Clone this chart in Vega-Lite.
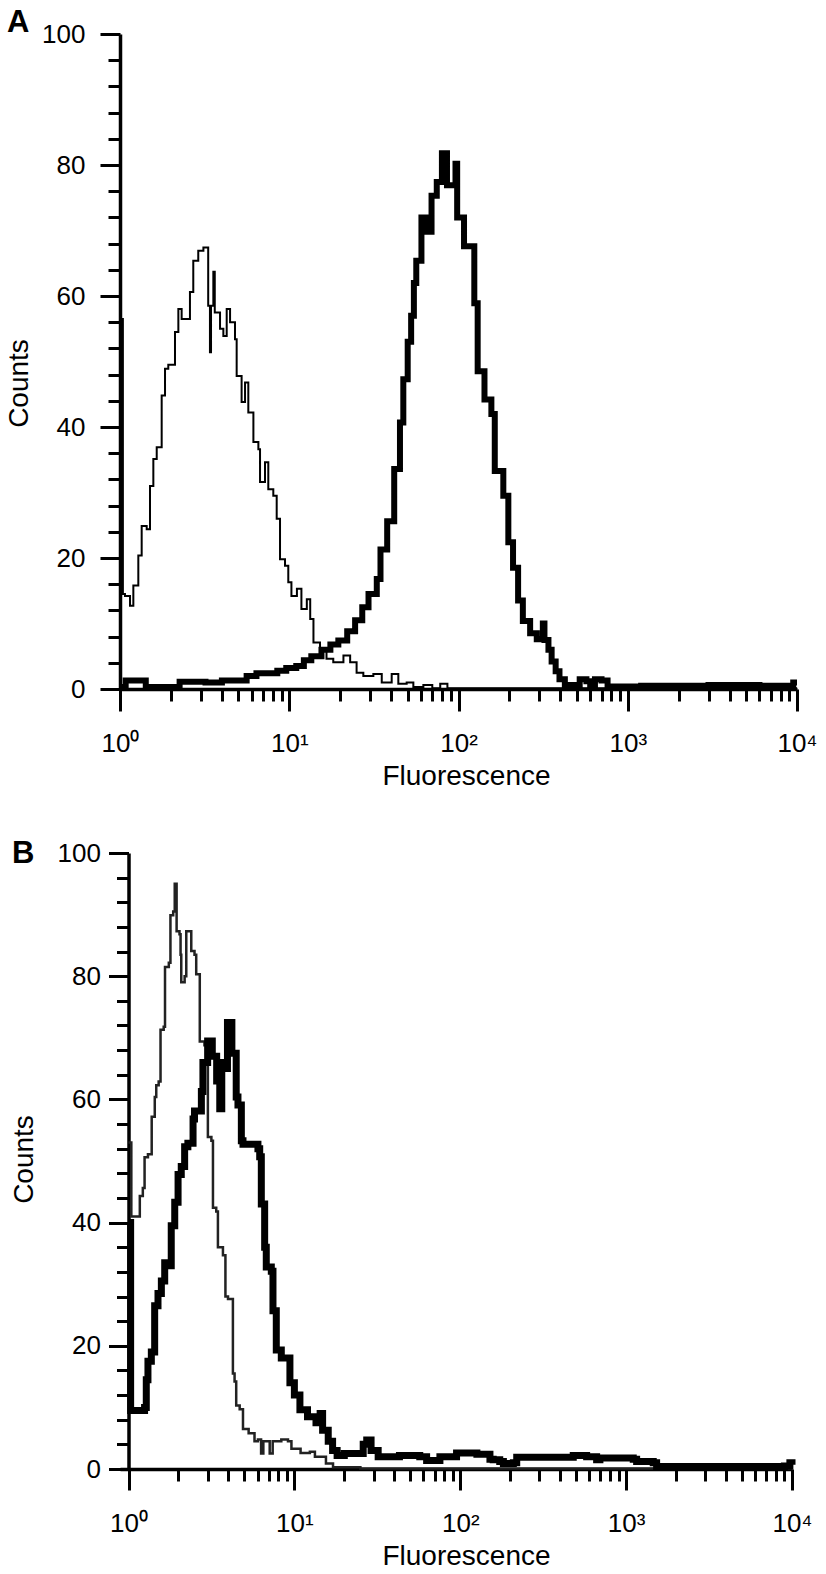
{
  "$schema": "https://vega.github.io/schema/vega-lite/v6.json",
  "padding": {"left": 5, "top": 7, "right": 0, "bottom": 0},
  "background": "white",
  "config": {
    "font": "Liberation Sans",
    "view": {"stroke": null},
    "axis": {
      "grid": false,
      "domainColor": "#000",
      "domainWidth": 3.5,
      "tickColor": "#000",
      "tickWidth": 3,
      "labelColor": "#000",
      "titleColor": "#000",
      "labelFont": "Liberation Sans",
      "titleFont": "Liberation Sans",
      "labelFontSize": 26,
      "titleFontSize": 28,
      "titleFontWeight": "normal",
      "labelFlush": false,
      "labelOverlap": false,
      "labelBound": false
    }
  },
  "datasets": {
    "ac": [
      {"f":1.0,"c":56.5},{"f":1.04,"c":14.5},{"f":1.07,"c":14.2},{"f":1.146,"c":12.7},{"f":1.199,"c":15.8},{"f":1.283,"c":20.4},{"f":1.343,"c":24.9},{"f":1.438,"c":24.4},{"f":1.504,"c":31.0},{"f":1.574,"c":35.1},{"f":1.648,"c":36.9},{"f":1.763,"c":44.8},{"f":1.845,"c":48.9},{"f":1.929,"c":49.5},{"f":2.113,"c":54.5},{"f":2.212,"c":58.0},{"f":2.313,"c":56.5},{"f":2.59,"c":60.6},{"f":2.71,"c":65.4},{"f":2.90,"c":66.9},{"f":3.11,"c":67.4},{"f":3.32,"c":58.5},{"f":3.40,"c":51.4},{"f":3.45,"c":58.5},{"f":3.56,"c":63.7},{"f":3.63,"c":57.5},{"f":3.90,"c":55.0},{"f":4.08,"c":53.9},{"f":4.27,"c":58.0},{"f":4.47,"c":56.0},{"f":4.78,"c":53.4},{"f":4.89,"c":47.8},{"f":5.23,"c":43.8},{"f":5.48,"c":46.8},{"f":5.73,"c":42.2},{"f":6.14,"c":37.7},{"f":6.57,"c":36.6},{"f":6.72,"c":31.6},{"f":7.19,"c":34.6},{"f":7.52,"c":30.5},{"f":8.05,"c":29.5},{"f":8.43,"c":26.0},{"f":8.82,"c":19.8},{"f":9.44,"c":18.8},{"f":9.87,"c":16.3},{"f":10.3,"c":14.2},{"f":11.1,"c":15.3},{"f":11.8,"c":12.2},{"f":12.7,"c":13.7},{"f":13.3,"c":10.7},{"f":13.9,"c":7.1},{"f":15.2,"c":6.1},{"f":16.6,"c":4.6},{"f":18.2,"c":4.1},{"f":20.9,"c":5.1},{"f":22.9,"c":4.1},{"f":25.0,"c":2.5},{"f":27.4,"c":2.0},{"f":31.4,"c":2.3},{"f":35.2,"c":1.0},{"f":40.3,"c":2.3},{"f":44.1,"c":0.8},{"f":49.4,"c":1.0},{"f":54.1,"c":0.3},{"f":62,"c":0.6},{"f":70,"c":0.1},{"f":78,"c":0.8},{"f":86,"c":0.1},{"f":10000,"c":0.1}
    ],
    "at": [
      {"f":1.0,"c":0.3},{"f":1.08,"c":1.3},{"f":1.3,"c":1.3},{"f":1.42,"c":0.3},{"f":2.1,"c":0.3},{"f":2.25,"c":1.1},{"f":3.2,"c":1.0},{"f":4.0,"c":1.3},{"f":5.3,"c":1.3},{"f":5.6,"c":2.0},{"f":6.4,"c":2.4},{"f":7.6,"c":2.4},{"f":8.5,"c":2.8},{"f":9.6,"c":3.2},{"f":11.0,"c":3.5},{"f":12.2,"c":4.4},{"f":13.5,"c":5.0},{"f":15.5,"c":6.0},{"f":17.5,"c":6.8},{"f":19.5,"c":7.4},{"f":22,"c":8.8},{"f":24.5,"c":10.5},{"f":27,"c":12.5},{"f":29.4,"c":14.5},{"f":32.9,"c":16.8},{"f":34.6,"c":21.3},{"f":37.9,"c":25.6},{"f":41.7,"c":33.6},{"f":45.1,"c":40.7},{"f":47.2,"c":47.3},{"f":50.1,"c":53},{"f":52.5,"c":57},{"f":54.5,"c":62},{"f":56.3,"c":65.4},{"f":60.4,"c":72.0},{"f":64.7,"c":69.8},{"f":69.3,"c":75.3},{"f":74.4,"c":77.4},{"f":79.8,"c":81.8},{"f":85.5,"c":76.9},{"f":96,"c":80.2},{"f":98.2,"c":72},{"f":107.8,"c":67.6},{"f":124,"c":58.9},{"f":129.8,"c":48.5},{"f":142.4,"c":44.2},{"f":156.4,"c":42},{"f":163.8,"c":33.3},{"f":184,"c":29.5},{"f":197,"c":22.4},{"f":210,"c":18.5},{"f":225,"c":13.5},{"f":240,"c":10.4},{"f":265,"c":8.5},{"f":290,"c":7.6},{"f":315,"c":10.0},{"f":322,"c":7.5},{"f":340,"c":6.0},{"f":355,"c":4.2},{"f":375,"c":2.7},{"f":395,"c":1.5},{"f":425,"c":0.6},{"f":500,"c":0.4},{"f":520,"c":1.5},{"f":570,"c":1.2},{"f":600,"c":0.4},{"f":640,"c":1.5},{"f":700,"c":1.3},{"f":760,"c":0.4},{"f":1200,"c":0.5},{"f":3000,"c":0.6},{"f":6000,"c":0.5},{"f":9500,"c":1.0},{"f":10000,"c":1.0}
    ],
    "bc": [
      {"f":1.0,"c":53},{"f":1.04,"c":41},{"f":1.17,"c":44.3},{"f":1.22,"c":45.6},{"f":1.25,"c":50.6},{"f":1.31,"c":51.1},{"f":1.38,"c":57.2},{"f":1.44,"c":60.4},{"f":1.47,"c":62.3},{"f":1.52,"c":62.9},{"f":1.56,"c":71.3},{"f":1.63,"c":71.8},{"f":1.66,"c":81.5},{"f":1.75,"c":82.2},{"f":1.79,"c":89.9},{"f":1.86,"c":90.5},{"f":1.90,"c":95.0},{"f":1.95,"c":87.3},{"f":2.03,"c":86.8},{"f":2.06,"c":83.5},{"f":2.08,"c":79.0},{"f":2.18,"c":80.0},{"f":2.23,"c":87.3},{"f":2.34,"c":87.3},{"f":2.39,"c":84.1},{"f":2.50,"c":83.5},{"f":2.56,"c":80.3},{"f":2.62,"c":80.3},{"f":2.69,"c":69.4},{"f":2.87,"c":68.8},{"f":3.01,"c":53.9},{"f":3.16,"c":53.3},{"f":3.23,"c":42.4},{"f":3.38,"c":41.8},{"f":3.46,"c":36.0},{"f":3.71,"c":34.7},{"f":3.84,"c":28.0},{"f":3.98,"c":27.6},{"f":4.26,"c":15.5},{"f":4.36,"c":14.2},{"f":4.46,"c":10.3},{"f":4.68,"c":9.7},{"f":4.90,"c":6.5},{"f":5.30,"c":5.8},{"f":5.75,"c":4.5},{"f":6.03,"c":4.8},{"f":6.3,"c":2.5},{"f":6.5,"c":4.5},{"f":7.1,"c":2.5},{"f":7.4,"c":4.5},{"f":8.34,"c":4.8},{"f":9.15,"c":4.5},{"f":9.6,"c":3.3},{"f":10.9,"c":2.6},{"f":12.4,"c":2.8},{"f":13.3,"c":2.0},{"f":15.5,"c":0.9},{"f":17.1,"c":0.3},{"f":25,"c":0.1},{"f":10000,"c":0.1}
    ],
    "bt": [
      {"f":1.0,"c":40},{"f":1.03,"c":9.5},{"f":1.25,"c":10.0},{"f":1.28,"c":14.5},{"f":1.31,"c":17.5},{"f":1.373,"c":19.0},{"f":1.438,"c":26.5},{"f":1.506,"c":28.5},{"f":1.578,"c":30.5},{"f":1.653,"c":33.5},{"f":1.73,"c":33.0},{"f":1.81,"c":39.5},{"f":1.90,"c":43.3},{"f":1.99,"c":47.8},{"f":2.08,"c":49.1},{"f":2.18,"c":52.3},{"f":2.28,"c":52.9},{"f":2.45,"c":56.8},{"f":2.50,"c":58.1},{"f":2.69,"c":58.1},{"f":2.75,"c":61.3},{"f":2.81,"c":66.0},{"f":3.0,"c":69.5},{"f":3.2,"c":67.0},{"f":3.4,"c":63.0},{"f":3.55,"c":58.5},{"f":3.65,"c":66.0},{"f":3.8,"c":65.0},{"f":3.95,"c":72.5},{"f":4.2,"c":67.5},{"f":4.46,"c":60.4},{"f":4.57,"c":59.1},{"f":4.79,"c":53.3},{"f":4.9,"c":52.7},{"f":6.03,"c":52.0},{"f":6.18,"c":50.7},{"f":6.32,"c":43.0},{"f":6.62,"c":36.0},{"f":6.77,"c":32.8},{"f":7.26,"c":32.1},{"f":7.43,"c":25.7},{"f":7.78,"c":19.3},{"f":8.34,"c":18.0},{"f":9.4,"c":14.0},{"f":10.0,"c":12.0},{"f":10.8,"c":9.6},{"f":12.0,"c":8.5},{"f":13.5,"c":7.5},{"f":14.3,"c":9.0},{"f":14.8,"c":6.3},{"f":16.0,"c":4.5},{"f":17.0,"c":3.0},{"f":18.1,"c":2.2},{"f":20,"c":2.5},{"f":24.5,"c":2.5},{"f":26,"c":4.0},{"f":27.3,"c":4.7},{"f":29,"c":3.0},{"f":32,"c":2.0},{"f":43,"c":2.2},{"f":57,"c":2.0},{"f":62.7,"c":1.4},{"f":72,"c":1.4},{"f":75.4,"c":2.0},{"f":82.7,"c":2.0},{"f":95,"c":2.6},{"f":109,"c":2.6},{"f":126,"c":2.4},{"f":151,"c":1.6},{"f":158,"c":1.5},{"f":173,"c":1.2},{"f":182,"c":0.9},{"f":209,"c":1.0},{"f":219,"c":1.9},{"f":302,"c":1.9},{"f":480,"c":2.2},{"f":578,"c":2.0},{"f":664,"c":1.5},{"f":695,"c":1.8},{"f":1104,"c":1.6},{"f":1157,"c":1.2},{"f":1457,"c":1.0},{"f":1527,"c":0.4},{"f":9000,"c":0.5},{"f":9710,"c":1.0},{"f":10000,"c":0.7}
    ]
  },
  "spacing": 48,
  "vconcat": [
    {
      "width": 677,
      "height": 655,
      "title": {"text": "A", "anchor": "start", "frame": "group", "fontSize": 31, "fontWeight": "bold", "font": "Liberation Sans", "color": "#000", "baseline": "alphabetic", "offset": 0, "dx": -113, "dy": 42},
      "resolve": {"axis": {"x": "independent", "y": "independent"}},
      "layer": [
        {
          "data": {"name": "ac"},
          "mark": {"type": "line", "interpolate": "step-after", "color": "#000", "strokeWidth": 2},
          "encoding": {
            "x": {"field": "f", "type": "quantitative", "scale": {"type": "log", "domain": [1, 10000], "nice": false},
              "axis": {"orient": "bottom", "values": [1, 10, 100, 1000, 10000], "tickSize": 22, "labelPadding": 19,
                "labelExpr": "datum.value < 5 ? '10⁰' : datum.value < 50 ? '10¹' : datum.value < 500 ? '10²' : datum.value < 5000 ? '10³' : '10⁴'",
                "title": "Fluorescence", "titlePadding": 6, "titleX": 346}},
            "y": {"field": "c", "type": "quantitative", "scale": {"domain": [0, 100], "nice": false},
              "axis": {"orient": "left", "values": [0, 20, 40, 60, 80, 100], "tickSize": 20, "labelPadding": 15, "title": "Counts", "titlePadding": 8, "titleY": 349}}
          }
        },
        {
          "data": {"name": "at"},
          "mark": {"type": "line", "interpolate": "step-after", "color": "#000", "strokeWidth": 6},
          "encoding": {
            "x": {"field": "f", "type": "quantitative", "scale": {"type": "log", "domain": [1, 10000], "nice": false},
              "axis": {"orient": "bottom", "values": [2,3,4,5,6,7,8,9,20,30,40,50,60,70,80,90,200,300,400,500,600,700,800,900,2000,3000,4000,5000,6000,7000,8000,9000], "tickSize": 12, "labels": false, "domain": false, "title": null}},
            "y": {"field": "c", "type": "quantitative", "scale": {"domain": [0, 100], "nice": false},
              "axis": {"orient": "left", "values": [4,8,12,16,24,28,32,36,44,48,52,56,64,68,72,76,84,88,92,96], "tickSize": 12, "labels": false, "domain": false, "title": null}}
          }
        }
      ]
    },
    {
      "width": 672,
      "height": 616,
      "title": {"text": "B", "anchor": "start", "frame": "group", "fontSize": 31, "fontWeight": "bold", "font": "Liberation Sans", "color": "#000", "baseline": "alphabetic", "offset": 0, "dx": -108, "dy": 54},
      "resolve": {"axis": {"x": "independent", "y": "independent"}},
      "layer": [
        {
          "data": {"name": "bc"},
          "mark": {"type": "line", "interpolate": "step-after", "color": "#222", "strokeWidth": 2.5},
          "encoding": {
            "x": {"field": "f", "type": "quantitative", "scale": {"type": "log", "domain": [0.8887, 10000], "nice": false},
              "axis": {"orient": "bottom", "values": [1, 10, 100, 1000, 10000], "tickSize": 21, "labelPadding": 20,
                "labelExpr": "datum.value < 5 ? '10⁰' : datum.value < 50 ? '10¹' : datum.value < 500 ? '10²' : datum.value < 5000 ? '10³' : '10⁴'",
                "title": "Fluorescence", "titlePadding": 6, "titleX": 346}},
            "y": {"field": "c", "type": "quantitative", "scale": {"domain": [0, 100], "nice": false},
              "axis": {"orient": "left", "offset": -8.5, "values": [0, 20, 40, 60, 80, 100], "tickSize": 20, "labelPadding": 8, "title": "Counts", "titlePadding": 19, "titleY": 306}}
          }
        },
        {
          "data": {"name": "bt"},
          "mark": {"type": "line", "interpolate": "step-after", "color": "#000", "strokeWidth": 7},
          "encoding": {
            "x": {"field": "f", "type": "quantitative", "scale": {"type": "log", "domain": [0.8887, 10000], "nice": false},
              "axis": {"orient": "bottom", "values": [2,3,4,5,6,7,8,9,20,30,40,50,60,70,80,90,200,300,400,500,600,700,800,900,2000,3000,4000,5000,6000,7000,8000,9000], "tickSize": 12, "labels": false, "domain": false, "title": null}},
            "y": {"field": "c", "type": "quantitative", "scale": {"domain": [0, 100], "nice": false},
              "axis": {"orient": "left", "offset": -8.5, "values": [4,8,12,16,24,28,32,36,44,48,52,56,64,68,72,76,84,88,92,96], "tickSize": 12, "labels": false, "domain": false, "title": null}}
          }
        }
      ]
    }
  ]
}
